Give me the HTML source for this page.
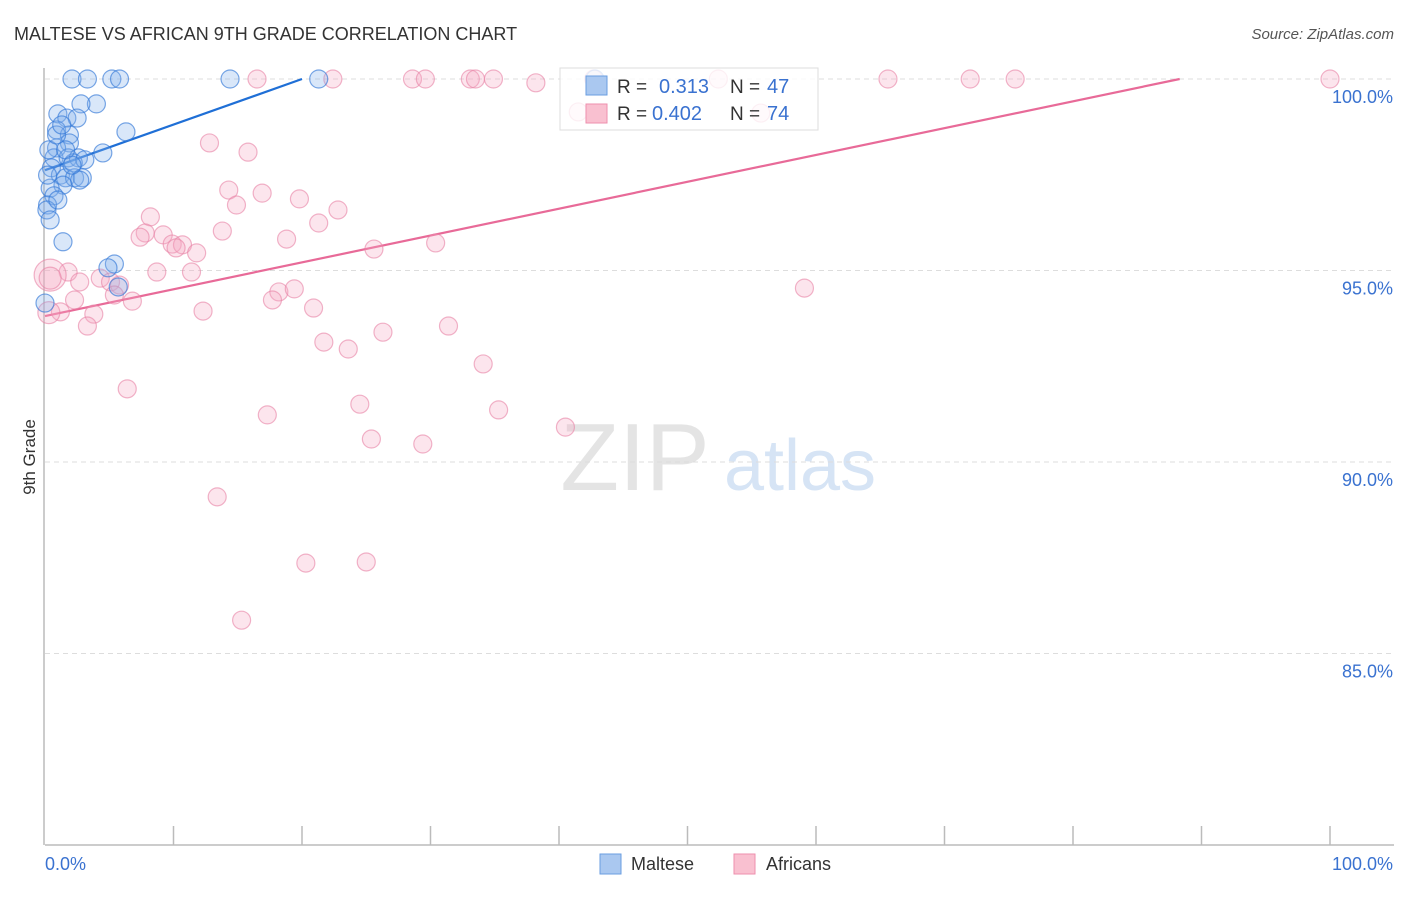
<!DOCTYPE html>
<html><head><meta charset="utf-8">
<style>
body{margin:0;background:#fff;font-family:"Liberation Sans",sans-serif;}
svg text{font-family:"Liberation Sans",sans-serif;}
</style></head>
<body>
<svg id="chart" width="1406" height="892" xmlns="http://www.w3.org/2000/svg">
<text x="14" y="40" font-size="18" fill="#333">MALTESE VS AFRICAN 9TH GRADE CORRELATION CHART</text>
<text x="1394" y="39" font-size="15" fill="#555" font-style="italic" text-anchor="end">Source: ZipAtlas.com</text>
<g>
<text x="635" y="490" font-size="96" fill="#e4e4e4" font-family="Liberation Serif" text-anchor="middle">ZIP</text>
<text x="800" y="490" font-size="72" fill="#d6e4f5" text-anchor="middle">atlas</text>
</g>
<g id="grid"></g>
<g id="axes"></g>
<g id="lines"></g>
<g id="pts"></g>
<text x="35" y="457" font-size="17" fill="#333" transform="rotate(-90 35 457)" text-anchor="middle">9th Grade</text>
<g>
<rect x="560" y="68" width="258" height="62" fill="rgba(255,255,255,0.8)" stroke="#ddd"/>
<rect x="586" y="76" width="21" height="19" fill="#aac8f0" stroke="#6a9ee0"/>
<rect x="586" y="104" width="21" height="19" fill="#f9c0d0" stroke="#ee8fae"/>
<text x="617" y="93" font-size="19" fill="#333">R = </text>
<text x="659" y="93" font-size="20" fill="#3a72d0">0.313</text>
<text x="730" y="93" font-size="19" fill="#333">N = </text>
<text x="767" y="93" font-size="20" fill="#3a72d0">47</text>
<text x="617" y="120" font-size="19" fill="#333">R = </text>
<text x="652" y="120" font-size="20" fill="#3a72d0">0.402</text>
<text x="730" y="120" font-size="19" fill="#333">N = </text>
<text x="767" y="120" font-size="20" fill="#3a72d0">74</text>
</g>
<g>
<rect x="600" y="854" width="21" height="20" fill="#aac8f0" stroke="#6a9ee0"/>
<text x="631" y="870" font-size="18" fill="#333">Maltese</text>
<rect x="734" y="854" width="21" height="20" fill="#f9c0d0" stroke="#ee8fae"/>
<text x="766" y="870" font-size="18" fill="#333">Africans</text>
</g>
</svg>
<script>
const yTicks=[100,95,90,85];
const blueX=[2.1,3.3,5.2,5.8,14.4,21.3,4.0,2.8,1.0,1.7,2.5,0.9,1.9,6.3,1.9,0.9,4.5,0.7,1.8,2.6,2.2,0.5,1.2,1.6,2.3,2.9,1.4,0.4,0.7,0.2,0.15,1.4,5.4,4.9,5.7,0,42.8,0.3,3.1,0.9,1.3,0.2,2.7,0.4,1.0,1.6,2.1];
const blueY=[100,100,100,100,100,100,99.35,99.35,99.09,98.98,98.98,98.67,98.54,98.62,98.33,98.2,98.07,97.94,97.94,97.94,97.81,97.68,97.49,97.42,97.42,97.42,97.23,97.15,96.95,96.71,96.58,95.75,95.17,95.07,94.57,94.15,100,98.15,97.89,98.54,98.8,97.49,97.36,96.32,96.84,98.15,97.75];
const pinkX=[16.5,22.4,28.6,29.6,33.1,33.5,34.9,38.2,42.7,52.4,65.6,72.0,75.5,100,12.8,15.8,14.3,16.9,14.9,19.8,22.8,8.2,21.3,7.8,7.4,9.2,13.8,9.9,10.7,10.2,11.8,18.8,25.6,30.4,8.7,11.4,1.8,4.3,5.1,5.8,2.7,0.4,2.3,6.8,5.4,18.2,17.7,19.4,20.9,1.2,3.8,12.3,3.3,26.3,31.4,21.7,23.6,34.1,6.4,24.5,35.3,17.3,40.5,25.4,29.4,13.4,20.3,25.0,15.3,59.1,41.5,55.7,0.4,0.3];
const pinkY=[100,100,100,100,100,100,100,99.9,100,100,100,100,100,100,98.33,98.09,97.1,97.02,96.71,96.87,96.58,96.4,96.24,95.98,95.87,95.93,96.03,95.69,95.67,95.59,95.46,95.82,95.56,95.72,94.96,94.96,94.96,94.8,94.7,94.62,94.7,94.88,94.23,94.2,94.36,94.44,94.23,94.52,94.02,93.92,93.86,93.94,93.55,93.39,93.55,93.13,92.95,92.56,91.91,91.51,91.36,91.23,90.91,90.6,90.47,89.09,87.36,87.39,85.87,94.54,99.14,99.11,94.8,93.9];
const pinkR=[9,9,9,9,9,9,9,9,9,9,9,9,9,9,9,9,9,9,9,9,9,9,9,9,9,9,9,9,9,9,9,9,9,9,9,9,9,9,9,9,9,16,9,9,9,9,9,9,9,9,9,9,9,9,9,9,9,9,9,9,9,9,9,9,9,9,9,9,9,9,9,9,11,11];
const trendIntercept=[97.62,93.81];
const trendSlope=[0.119,0.0701];
const NS='http://www.w3.org/2000/svg';
const xs=v=>45+v*12.85;
const ys=v=>79+(100-v)*38.3;
function mk(tag,attrs,parent){const e=document.createElementNS(NS,tag);for(const k in attrs)e.setAttribute(k,attrs[k]);document.getElementById(parent).appendChild(e);return e;}
yTicks.forEach(t=>{
 const g=mk('line',{x1:45,x2:1394,y1:ys(t),y2:ys(t),stroke:'#ddd','stroke-dasharray':'5,4'},'grid');
 
 
 const l=mk('text',{x:1393,y:ys(t)+24,'font-size':18,fill:'#3a72d0','text-anchor':'end'},'grid');
 l.textContent=t.toFixed(1)+'%';
 
 
});
const ax=mk('line',{x1:45,x2:1394,y1:845,y2:845,stroke:'#bbb','stroke-width':1.5},'axes');


const ay=mk('line',{x1:44,x2:44,y1:68,y2:845,stroke:'#bbb','stroke-width':1.5},'axes');


for(let i=1;i<=10;i++){const t=mk('line',{x1:xs(i*10),x2:xs(i*10),y1:826,y2:845,stroke:'#bbb','stroke-width':1.5},'axes');
 
 }
const x0=mk('text',{x:45,y:870,'font-size':18,fill:'#3a72d0'},'axes');x0.textContent='0.0%';


const x1=mk('text',{x:1393,y:870,'font-size':18,fill:'#3a72d0','text-anchor':'end'},'axes');x1.textContent='100.0%';


const colors=['#1f6fd6','#e86a98'];
trendIntercept.forEach((b,i)=>{
 const m=trendSlope[i];const xe=Math.min(100,(100-b)/m);
 const l=mk('line',{x1:xs(0),y1:ys(b),x2:xs(xe),y2:ys(b+m*xe),stroke:colors[i],'stroke-width':2.2},'lines');
 
 
});
pinkX.forEach((v,i)=>{
 const c=mk('circle',{cx:xs(v),cy:ys(pinkY[i]),r:pinkR[i],fill:'rgba(246,170,195,0.3)',stroke:'rgba(232,130,165,0.6)','stroke-width':1.2},'pts');
 
 
});
blueX.forEach((v,i)=>{
 const c=mk('circle',{cx:xs(v),cy:ys(blueY[i]),r:9,fill:'rgba(130,175,235,0.3)',stroke:'rgba(50,120,215,0.65)','stroke-width':1.2},'pts');
 
 
});
</script>
</body></html>
